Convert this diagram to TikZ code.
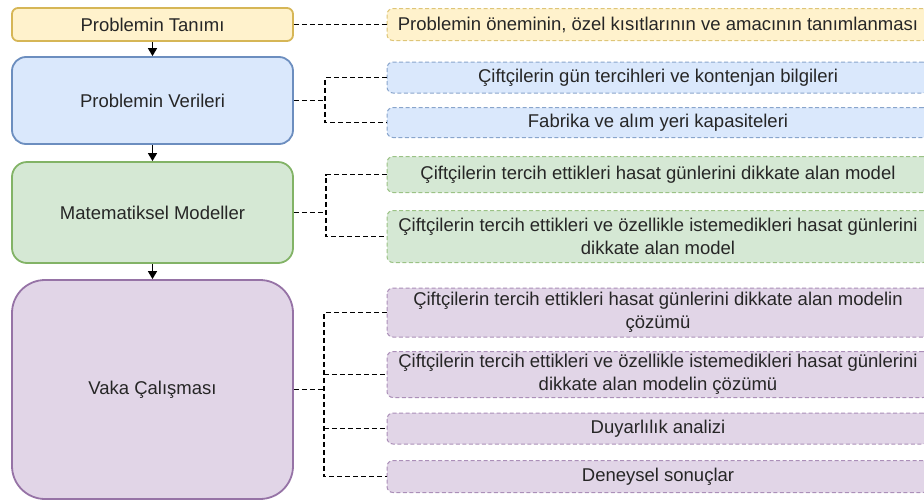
\documentclass[tikz,border=0pt]{standalone}
\usepackage{fontspec}
\setmainfont{Liberation Sans}
\usetikzlibrary{arrows.meta}

\definecolor{sariD}{HTML}{FFF2CC}\definecolor{sariK}{HTML}{D6B656}
\definecolor{maviD}{HTML}{DAE8FC}\definecolor{maviK}{HTML}{6C8EBF}
\definecolor{yesilD}{HTML}{D5E8D4}\definecolor{yesilK}{HTML}{82B366}
\definecolor{morD}{HTML}{E1D5E7}\definecolor{morK}{HTML}{9673A6}

\begin{document}
\begin{tikzpicture}[x=1pt,y=-1pt,font=\fontsize{18.5}{23}\selectfont,text=black!85,
  ana/.style={draw,line width=1.8pt,minimum width=281pt,inner sep=0pt,align=center},
  alt/.style={draw,dash pattern=on 4pt off 2.5pt,line width=1pt,rounded corners=6pt,minimum width=542pt,inner sep=0pt,align=center},
  bag/.style={dash pattern=on 5pt off 3pt,line width=1.3pt},
  ok/.style={-{Triangle[width=9pt,length=8pt]},line width=1.3pt}]
\clip (0,0) rectangle (924,501);

% ana kutular
\node[ana,fill=sariD,draw=sariK,minimum height=33pt,rounded corners=6pt] (tanim) at (152.5,24.5) {Problemin Tanımı};
\node[ana,fill=maviD,draw=maviK,minimum height=87pt,rounded corners=14pt] (veri) at (152.5,100.5) {Problemin Verileri};
\node[ana,fill=yesilD,draw=yesilK,minimum height=101pt,rounded corners=15pt] (model) at (152.5,212.5) {Matematiksel Modeller};
\node[ana,fill=morD,draw=morK,minimum height=219pt,rounded corners=33pt] (vaka) at (152.5,389.5) {Vaka Çalışması};

\draw[ok] (tanim) -- (veri);
\draw[ok] (veri) -- (model);
\draw[ok] (model) -- (vaka);

% alt kutular
\node[alt,fill=sariD,draw=sariK!80,minimum height=32pt] (t1) at (658,24.5) {Problemin öneminin, özel kısıtlarının ve amacının tanımlanması};
\node[alt,fill=maviD,draw=maviK!80,minimum height=31pt] (v1) at (658,77.5) {Çiftçilerin gün tercihleri ve kontenjan bilgileri};
\node[alt,fill=maviD,draw=maviK!80,minimum height=30pt] (v2) at (658,122.5) {Fabrika ve alım yeri kapasiteleri};
\node[alt,fill=yesilD,draw=yesilK!80,minimum height=36pt] (m1) at (658,174.5) {Çiftçilerin tercih ettikleri hasat günlerini dikkate alan model};
\node[alt,fill=yesilD,draw=yesilK!80,minimum height=52pt] (m2) at (658,236.5) {Çiftçilerin tercih ettikleri ve özellikle istemedikleri hasat günlerini\\dikkate alan model};
\node[alt,fill=morD,draw=morK!80,minimum height=49pt] (k1) at (658,312.5) {Çiftçilerin tercih ettikleri hasat günlerini dikkate alan modelin\\çözümü};
\node[alt,fill=morD,draw=morK!80,minimum height=46pt] (k2) at (658,374.5) {Çiftçilerin tercih ettikleri ve özellikle istemedikleri hasat günlerini\\dikkate alan modelin çözümü};
\node[alt,fill=morD,draw=morK!80,minimum height=31pt] (k3) at (658,428.5) {Duyarlılık analizi};
\node[alt,fill=morD,draw=morK!80,minimum height=32pt] (k4) at (658,476.5) {Deneysel sonuçlar};

% baglantilar
\draw[bag] (tanim) -- (t1);

\coordinate (vj) at ([xshift=31pt]veri.east);
\draw[bag] (veri.east) -- (vj);
\draw[bag] (v1.west) -| (vj |- v2.west) -- (v2.west);

\coordinate (mj) at ([xshift=32pt]model.east);
\draw[bag] (model.east) -- (mj);
\draw[bag] (m1.west) -| (mj |- m2.west) -- (m2.west);

\coordinate (kj) at ([xshift=30pt]vaka.east);
\draw[bag] (vaka.east) -- (kj);
\draw[bag] (k1.west) -| (kj |- k4.west) -- (k4.west);
\draw[bag] (kj |- k2.west) -- (k2.west);
\draw[bag] (kj |- k3.west) -- (k3.west);

\end{tikzpicture}
\end{document}
